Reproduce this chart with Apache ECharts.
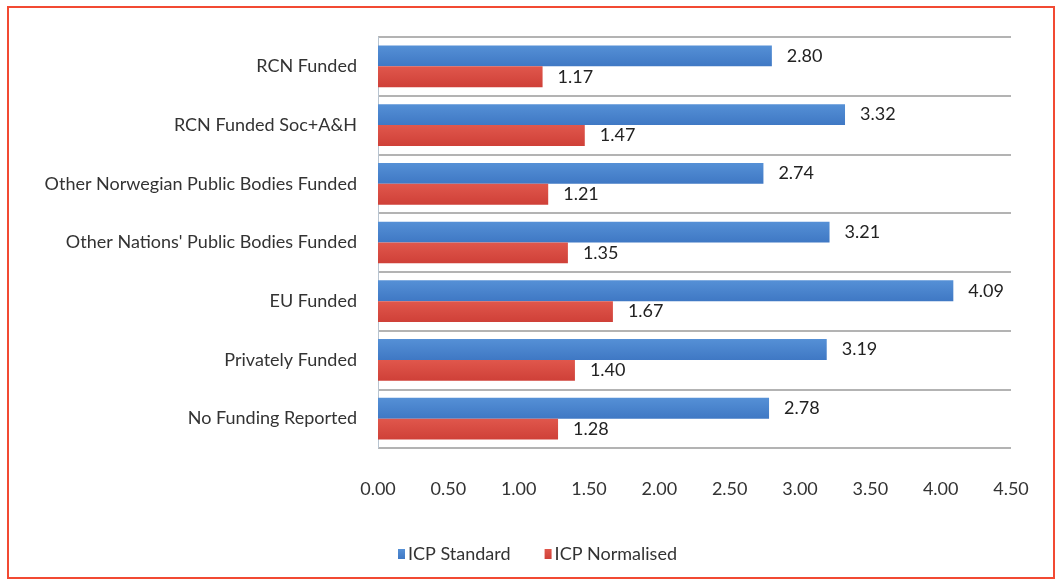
<!DOCTYPE html>
<html><head><meta charset="utf-8">
<script src="https://cdn.jsdelivr.net/npm/echarts@6/dist/echarts.min.js"></script>
<style>
html,body{margin:0;padding:0;background:#fff;}
#frame{position:absolute;left:7px;top:6px;width:1044px;height:569px;border:2px solid #f24a33;}
#chart{position:absolute;left:0;top:0;width:1058px;height:581px;}
</style></head>
<body>
<div id="frame"></div>
<div id="chart"></div>
<script>
const categories = ["RCN Funded","RCN Funded Soc+A&H","Other Norwegian Public Bodies Funded","Other Nations' Public Bodies Funded","EU Funded","Privately Funded","No Funding Reported"];
const icpStandard = [2.80,3.32,2.74,3.21,4.09,3.19,2.78];
const icpNormalised = [1.17,1.47,1.21,1.35,1.67,1.40,1.28];
const seriesNames = ["ICP Standard","ICP Normalised"];

const font = "Lato, 'Open Sans', sans-serif";
const chart = echarts.init(document.getElementById('chart'));
const grad = (a,b)=>new echarts.graphic.LinearGradient(0,0,0,1,[{offset:0,color:a},{offset:1,color:b}]);
chart.setOption({
  animation:false,
  textStyle:{fontFamily:font},
  grid:{left:378,right:47,top:37,bottom:133},
  legend:{
    left:393, top:540, itemWidth:7, itemHeight:10, itemGap:34,
    textStyle:{fontSize:18,color:'#333',fontFamily:font,padding:[0,0,0,-2]},
    data:[{name:seriesNames[0],icon:'rect'},{name:seriesNames[1],icon:'rect'}]
  },
  xAxis:{
    type:'value',min:0,max:4.5,interval:0.5,
    axisLine:{show:false},axisTick:{show:false},splitLine:{show:false},
    axisLabel:{formatter:v=>v.toFixed(2),fontSize:18,color:'#333',margin:32,fontFamily:font}
  },
  yAxis:{
    type:'category',inverse:true,data:categories,
    axisTick:{show:false},
    axisLine:{show:true,lineStyle:{color:'#b8c4d0',width:1}},
    splitLine:{show:true,lineStyle:{color:'#9a9a9a',width:1.5}},
    axisLabel:{fontSize:18,color:'#333',margin:21,fontFamily:font}
  },
  series:[
    {name:seriesNames[0],type:'bar',data:icpStandard,barGap:'0%',barCategoryGap:'29%',
     itemStyle:{color:grad('#5590d6','#3f78c4')},
     label:{show:true,position:'right',distance:15,formatter:p=>p.value.toFixed(2),fontSize:18,color:'#222',fontFamily:font}},
    {name:seriesNames[1],type:'bar',data:icpNormalised,
     itemStyle:{color:grad('#e0574c','#cf4038')},
     label:{show:true,position:'right',distance:15,formatter:p=>p.value.toFixed(2),fontSize:18,color:'#222',fontFamily:font}}
  ]
});
</script>
</body></html>
